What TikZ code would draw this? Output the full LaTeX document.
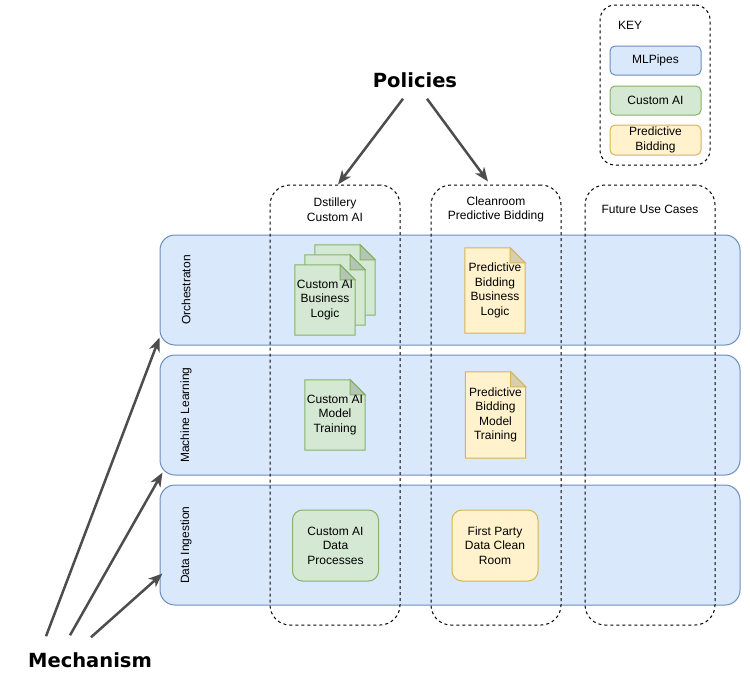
\documentclass[tikz,border=0pt]{standalone}
\usepackage{fontspec}
\setmainfont{Liberation Sans}
\newfontfamily\titlefont{DejaVu Sans}
\usetikzlibrary{positioning, arrows.meta, calc, backgrounds}

\definecolor{laneFill}{HTML}{DAE8FC}
\definecolor{laneLine}{HTML}{6C8EBF}
\definecolor{aiFill}{HTML}{D5E8D4}
\definecolor{aiLine}{HTML}{82B366}
\definecolor{bidFill}{HTML}{FFF2CC}
\definecolor{bidLine}{HTML}{D6B656}
\definecolor{arrowGray}{HTML}{4D4D4D}

% dog-eared page drawn behind a named node
\newcommand{\docshape}[3]{%
  \begin{scope}[on background layer]
    \filldraw[fill=#2, draw=#3, line width=1pt] (#1.south west) -- (#1.north west)
      -- ([xshift=-15pt]#1.north east) -- ([yshift=-15pt]#1.north east) -- (#1.south east) -- cycle;
    \filldraw[fill=#2!85!black, draw=#3, line width=1pt] ([xshift=-15pt]#1.north east)
      -- ([xshift=-15pt,yshift=-15pt]#1.north east) -- ([yshift=-15pt]#1.north east) -- cycle;
  \end{scope}}

\begin{document}
\begin{tikzpicture}[
    x=1pt, y=-1pt,
    txt/.style={font=\fontsize{12}{14.5}\selectfont, align=center, inner sep=0pt},
    lane/.style={draw=laneLine, fill=laneFill, line width=1pt, rounded corners=15pt, minimum width=580pt},
    lanelbl/.style={txt, rotate=90},
    column/.style={draw=black, dash pattern=on 3pt off 3pt, line width=1pt, rounded corners=20pt, minimum width=130pt, minimum height=440pt},
    docbox/.style={txt, minimum width=60pt, minimum height=70pt},
    procbox/.style={txt, draw, line width=1pt, rounded corners=10pt, minimum width=86pt, minimum height=71pt},
    keyitem/.style={txt, draw, line width=1pt, rounded corners=5pt, minimum width=91pt, minimum height=29pt},
    title/.style={font=\titlefont\bfseries\fontsize{19.5}{22}\selectfont, inner sep=0pt},
    bigarrow/.style={-{Stealth[length=14pt, width=11pt, inset=4pt]}, line width=2.5pt, draw=arrowGray}
]
    \useasboundingbox (0,0) rectangle (750,680);

    % ===== lanes =====
    \begin{scope}[on background layer]
        \node[lane, minimum height=110pt] (orch) at (450,290) {};
        \node[lane, minimum height=120pt] (ml) at (450,415) {};
        \node[lane, minimum height=120pt] (ingest) at (450,545) {};
    \end{scope}
    \node[lanelbl] (orchLbl) at (186,290) {Orchestraton};
    \node[lanelbl] (mlLbl) at (186,415) {Machine Learning};
    \node[lanelbl] (ingestLbl) at (186,545) {Data Ingestion};

    % ===== use case columns =====
    \node[column] (dstillery) at (335,405) {};
    \node[column] (cleanroom) at (496,405) {};
    \node[column] (future) at (650,405) {};
    \node[txt] (dstilleryLbl) at ($(dstillery.north)+(0,25)$) {Dstillery\\Custom AI};
    \node[txt] (cleanroomLbl) at ($(cleanroom.north)+(0,25)$) {Cleanroom\\Predictive Bidding};
    \node[txt] (futureLbl) at ($(future.north)+(0,25)$) {Future Use Cases};

    % ===== Custom AI items =====
    \node[docbox] (aiLogicBack) at (345,280) {};
    \node[docbox] (aiLogicMid) at (335,290) {};
    \node[docbox] (aiLogic) at (325,300) {Custom AI\\Business\\Logic};
    \docshape{aiLogicBack}{aiFill}{aiLine}
    \docshape{aiLogicMid}{aiFill}{aiLine}
    \docshape{aiLogic}{aiFill}{aiLine}

    \node[docbox] (aiTraining) at (335,415) {Custom AI\\Model\\Training};
    \docshape{aiTraining}{aiFill}{aiLine}

    \node[procbox, fill=aiFill, draw=aiLine] (aiData) at (335.5,545.5) {Custom AI\\Data\\Processes};

    % ===== Predictive Bidding items =====
    \node[docbox, minimum height=85pt] (bidLogic) at (495,290.5) {Predictive\\Bidding\\Business\\Logic};
    \docshape{bidLogic}{bidFill}{bidLine}

    \node[docbox, minimum height=86pt] (bidTraining) at (495.5,415) {Predictive\\Bidding\\Model\\Training};
    \docshape{bidTraining}{bidFill}{bidLine}

    \node[procbox, fill=bidFill, draw=bidLine] (bidRoom) at (495,545.5) {First Party\\Data Clean\\Room};

    % ===== key =====
    \node[column, minimum width=110pt, minimum height=160pt, rounded corners=15pt] (key) at (655,85) {};
    \node[txt] (keyLbl) at (630,25) {KEY};
    \node[keyitem, fill=laneFill, draw=laneLine] (keyPipes) at (655.5,60.5) {MLPipes};
    \node[keyitem, fill=aiFill, draw=aiLine] (keyAI) at (655.5,100.5) {Custom AI};
    \node[keyitem, fill=bidFill, draw=bidLine, minimum height=30pt] (keyBid) at (655.5,140) {Predictive\\Bidding};

    % ===== policies and mechanism =====
    \node[title] (policies) at (415,80) {Policies};
    \node[title] (mechanism) at (90,660) {Mechanism};

    \draw[bigarrow] ([xshift=-12pt, yshift=-11pt]policies.south) -- ([xshift=3pt]dstillery.north);
    \draw[bigarrow] ([xshift=12pt, yshift=-11pt]policies.south) -- ([xshift=-8pt, yshift=3pt]cleanroom.north);

    \draw[bigarrow] ([xshift=-44pt, yshift=16pt]mechanism.north) -- ([yshift=8pt]orch.south west);
    \draw[bigarrow] ([xshift=-20pt, yshift=17pt]mechanism.north) -- ([xshift=3pt, yshift=3pt]ml.south west);
    \draw[bigarrow] ([xshift=1pt, yshift=15pt]mechanism.north) -- ([xshift=3pt, yshift=32pt]ingest.south west);

\end{tikzpicture}
\end{document}
